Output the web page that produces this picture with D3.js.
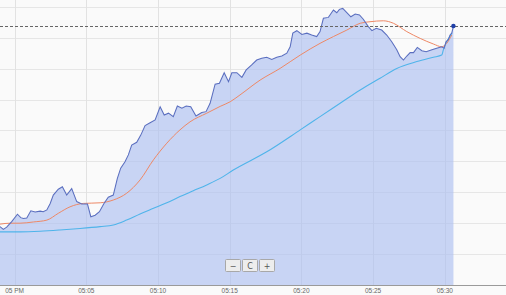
<!DOCTYPE html>
<html><head><meta charset="utf-8">
<script src="https://cdn.jsdelivr.net/npm/d3@7"></script>
<style>html,body{margin:0;padding:0;background:#fafafa;}svg{display:block;}</style>
</head><body>
<svg id="c" width="506" height="295"></svg>
<script>
// seconds after 17:00:00
const priceSec = [-61,-47,-33,-12,12,26,37,51,68,86,107,120,135,149,162,183,200,218,239,260,281,305,319,337,355,374,392,413,430,444,462,476,490,511,528,546,567,588,609,626,644,664,681,700,718,737,759,783,801,818,839,857,877,895,909,930,951,969,992,1013,1034,1055,1076,1097,1118,1139,1153,1164,1181,1202,1223,1243,1264,1278,1292,1313,1334,1348,1359,1373,1387,1407,1425,1443,1459,1480,1495,1513,1536,1557,1578,1599,1613,1627,1641,1655,1669,1685,1704,1722,1746,1766,1787,1797,1805,1815,1822,1829,1836];
const priceVal = [18.9,18.0,18.7,20.5,22.9,21.8,21.5,21.7,24.0,23.6,23.9,23.7,24.3,26.4,29.1,31.0,31.8,29.1,31.2,27.0,26.2,26.2,22.1,22.6,23.7,26.4,28.4,29.1,34.5,37.8,39.9,42.1,45.3,46.2,48.5,51.6,52.5,53.4,57.7,55.0,55.6,54.5,57.9,57.2,57.9,57.7,54.7,55.8,56.1,58.8,65.0,65.3,68.7,65.8,68.7,68.7,67.2,69.6,71.2,72.8,73.4,73.7,73.0,73.7,74.1,75.0,77.1,81.5,82.3,81.1,81.5,80.9,80.4,82.0,86.3,86.6,89.0,88.1,89.2,89.5,88.4,86.8,87.7,87.4,86.0,83.6,82.3,83.1,82.5,80.9,78.7,76.1,73.9,72.8,74.1,75.2,75.2,76.9,75.8,75.5,76.1,76.6,77.1,76.6,78.7,79.5,80.9,81.5,83.8];
const fastSec = [-61,-19,23,79,135,183,232,288,358,413,469,525,581,637,692,734,804,860,902,943,1027,1111,1195,1278,1334,1390,1446,1487,1543,1585,1641,1697,1752,1787,1808,1829];
const fastVal = [19.7,20.0,20.0,20.4,21.0,23.2,25.3,26.4,26.6,27.5,29.7,34.0,40.5,45.9,50.2,52.8,55.6,57.8,59.3,61.5,66.3,70.1,74.4,78.2,80.4,82.5,84.7,85.2,85.5,84.7,82.0,79.8,78.0,77.1,78.2,80.9];
const slowSec = [-61,23,107,190,274,358,413,469,525,581,637,692,748,804,860,915,1055,1195,1278,1362,1446,1529,1599,1683,1752,1787,1794,1805,1817,1830];
const slowVal = [17.2,17.2,17.4,17.8,18.3,18.9,19.4,21.0,23.0,24.8,26.6,28.6,30.5,32.4,34.5,37.2,43.1,50.2,54.5,58.8,63.1,66.9,70.1,72.3,73.7,74.4,76.1,78.3,79.9,81.6];
const xDomainSec = [-61, 2056];
const yTicks = [0,10,20,30,40,50,60,70,80,90];
const yMax = 92.23;

const base = new Date(2024,0,1,17,0,0);
const toDate = s => new Date(base.getTime() + s*1000);
const W = 506, H = 295, axisY = 285;
const svg = d3.select('#c');
const x = d3.scaleTime().domain(xDomainSec.map(toDate)).range([0, W]);
const y = d3.scaleLinear().domain([0, yMax]).range([axisY, 0]);

const mk = (S, V) => S.map((s,i)=>({t:toDate(s), v:V[i]}));
const price = mk(priceSec, priceVal), fast = mk(fastSec, fastVal), slow = mk(slowSec, slowVal);

svg.append('rect').attr('width',W).attr('height',H).attr('fill','#fafafa');

// horizontal grid
svg.append('g').selectAll('line').data(yTicks.slice(1)).join('line')
  .attr('x1',0).attr('x2',W).attr('y1',d=>Math.round(y(d))+0.5).attr('y2',d=>Math.round(y(d))+0.5)
  .attr('stroke','#e6e6e6').attr('stroke-width',1);

// vertical grid
const xt = x.ticks(d3.timeMinute.every(5));
svg.append('g').selectAll('line').data(xt).join('line')
  .attr('x1',d=>Math.round(x(d))+0.5).attr('x2',d=>Math.round(x(d))+0.5).attr('y1',0).attr('y2',axisY)
  .attr('stroke','#e2e2e2').attr('stroke-width',1);

// area
svg.append('path').datum(price)
  .attr('d', d3.area().x(d=>x(d.t)).y0(axisY).y1(d=>y(d.v)))
  .attr('fill','#a9bdf0').attr('fill-opacity',0.62);

const line = d3.line().x(d=>x(d.t)).y(d=>y(d.v));
const smooth = d3.line().x(d=>x(d.t)).y(d=>y(d.v)).curve(d3.curveMonotoneX);
svg.append('path').datum(slow).attr('d',smooth).attr('fill','none').attr('stroke','#4fb4ea').attr('stroke-width',1.1);
svg.append('path').datum(fast).attr('d',smooth).attr('fill','none').attr('stroke','#ee8866').attr('stroke-width',1);
svg.append('path').datum(price).attr('d',line).attr('fill','none').attr('stroke','#5a6ebf').attr('stroke-width',1.05);

// current value dashed line
const last = price[price.length-1];
svg.append('line').attr('x1',0).attr('x2',W).attr('y1',Math.round(y(last.v))+0.5).attr('y2',Math.round(y(last.v))+0.5)
  .attr('stroke','#666').attr('stroke-width',1).attr('stroke-dasharray','3,2');
svg.append('circle').attr('cx',x(last.t)).attr('cy',y(last.v)).attr('r',2.2).attr('fill','#1f3fa8');

// x axis
svg.append('line').attr('x1',0).attr('x2',W).attr('y1',axisY+0.5).attr('y2',axisY+0.5).attr('stroke','#9a9a9a').attr('stroke-width',1);
const fmt = d => d.getMinutes()===0 ? d3.timeFormat('%I %p')(d) : d3.timeFormat('%I:%M')(d);
svg.append('g').selectAll('text').data(xt).join('text')
  .attr('x',d=>x(d)).attr('y',293).attr('text-anchor','middle')
  .attr('font-family','"Liberation Sans", Arial, sans-serif').attr('font-size','6.5px').attr('fill','#666')
  .text(fmt);

// zoom buttons
const btns = [{t:'\u2212',x:225},{t:'C',x:242},{t:'+',x:259}];
const bg = svg.append('g');
btns.forEach(b=>{
  bg.append('rect').attr('x',b.x+0.5).attr('y',259.5).attr('width',15).attr('height',12).attr('rx',1)
    .attr('fill','#ededed').attr('stroke','#a8a8a8').attr('stroke-width',1);
  bg.append('text').attr('x',b.x+8).attr('y',268.5).attr('text-anchor','middle')
    .attr('font-family','"DejaVu Sans", sans-serif').attr('font-size','8px').attr('fill','#555').text(b.t);
});
</script>
</body></html>
